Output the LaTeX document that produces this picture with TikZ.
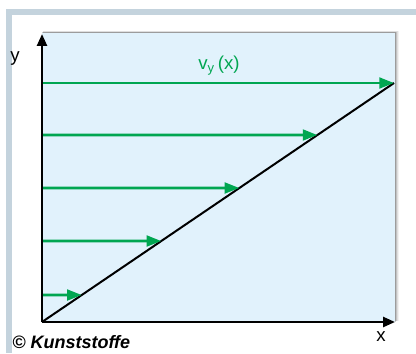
\documentclass[tikz,border=0pt]{standalone}
\usepackage{fontspec}
\setmainfont{Liberation Sans}
\usetikzlibrary{arrows.meta,calc}
\definecolor{framegray}{HTML}{C4D3DD}
\definecolor{plotblue}{HTML}{E1F2FC}
\definecolor{flowgreen}{HTML}{00A651}
\tikzset{
  axis/.style={line width=1.9pt,-{Triangle[length=9pt,width=7.5pt]}},
  flow/.style={draw=flowgreen,line width=2.1pt,-{Triangle[length=11pt,width=8pt]}},
  lbl/.style={font=\fontsize{14}{16}\selectfont,inner sep=0pt}
}
\begin{document}
\begin{tikzpicture}[x=0.75pt,y=-0.75pt]
\useasboundingbox (0,0) rectangle (416,353);
\fill[white] (0,0) rectangle (416,353);
% frame
\fill[framegray] (6,9) rectangle (416,15);
\fill[framegray] (6,9) rectangle (12,353);
% plot shadow
\foreach \o/\a in {4/0.05,3/0.08,2/0.12,1/0.2}{
  \fill[black,opacity=\a] (42+\o*0.3,33-\o*0.6) rectangle (395+\o,322-\o*0.3);
}
% plot area
\fill[plotblue] (42,33) rectangle (395,322);
\coordinate (O) at (42,322);
\coordinate (ytip) at (42,34);
\coordinate (xtip) at (395,322);
\coordinate (D) at (394,83);
% diagonal
\draw[line width=1.5pt] (O) -- (D);
% flow arrows
\foreach \yy [count=\i] in {83,135,188,241,295}{
  \coordinate (s\i) at (42,\yy);
  \coordinate (e\i) at ($(O)!{(322-\yy)/239}!(D)$);
  \draw[flow] (s\i) -- (e\i);
}
% axes
\draw[axis] (O) -- (ytip);
\draw[axis] (O) -- (xtip);
% labels
\node[lbl] (ylab) at (15,59) {y};
\node[lbl] (xlab) at (381,337) {x};
\node[lbl,text=flowgreen] (vlab) at (219,66) {v\textsubscript{y}\,(x)};
\node[lbl,anchor=west,font=\fontsize{13.5}{15}\selectfont\bfseries\itshape] (copy) at (12,342) {© Kunststoffe};
\end{tikzpicture}
\end{document}
